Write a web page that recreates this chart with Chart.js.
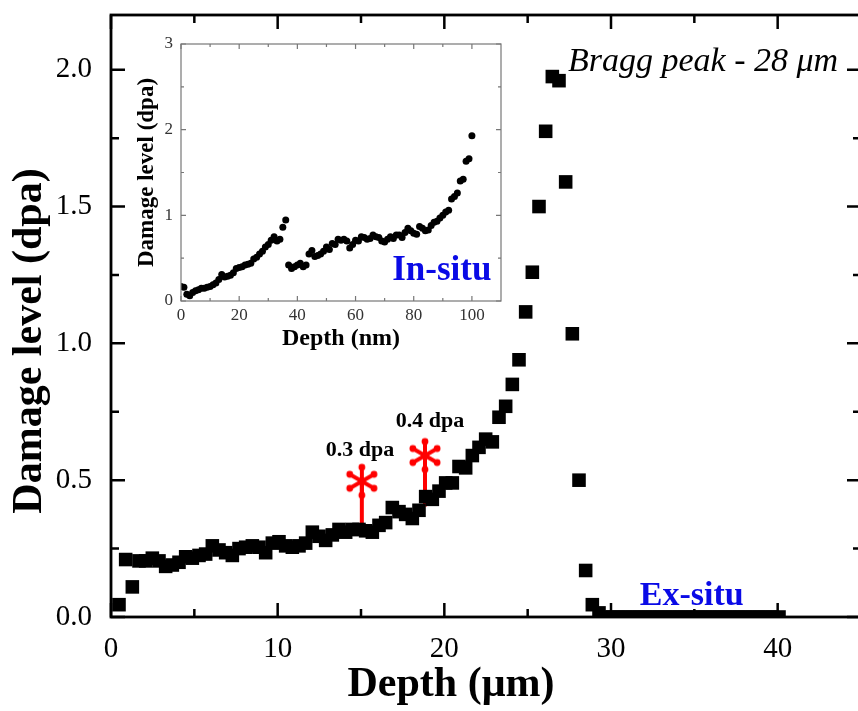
<!DOCTYPE html>
<html>
<head>
<meta charset="utf-8">
<script src="https://cdn.jsdelivr.net/npm/chart.js@4.4.0/dist/chart.umd.min.js"></script>
<style>
  html, body { margin: 0; padding: 0; background: #fff; overflow: hidden; }
  #wrap { position: relative; width: 864px; height: 711px; }
  #inset { position: absolute; left: 130px; top: 30px; }
</style>
</head>
<body>
<div id="wrap">
  <canvas id="mainChart" width="864" height="711"></canvas>
  <canvas id="inset" width="390" height="330"></canvas>
</div>
<script>
// ex-situ profile (depth in µm, damage in dpa)
const depthUm = [
  0.48, 0.88, 1.28, 1.68, 2.08, 2.48, 2.88, 3.28, 3.68, 4.08,
  4.48, 4.88, 5.28, 5.68, 6.08, 6.48, 6.88, 7.28, 7.68, 8.08,
  8.48, 8.88, 9.28, 9.68, 10.08, 10.48, 10.88, 11.28, 11.68, 12.08,
  12.48, 12.88, 13.28, 13.68, 14.08, 14.48, 14.88, 15.28, 15.68, 16.08,
  16.48, 16.88, 17.28, 17.68, 18.08, 18.48, 18.88, 19.28, 19.68, 20.08,
  20.48, 20.88, 21.28, 21.68, 22.08, 22.48, 22.88, 23.28, 23.68, 24.08,
  24.48, 24.88, 25.28, 25.68, 26.08, 26.48, 26.88, 27.28, 27.68, 28.08,
  28.48, 28.88, 29.28, 29.68, 30.08, 30.48, 30.88, 31.28, 31.68, 32.08,
  32.48, 32.88, 33.28, 33.68, 34.08, 34.48, 34.88, 35.28, 35.68, 36.08,
  36.48, 36.88, 37.28, 37.68, 38.08, 38.48, 38.88, 39.28, 39.68, 40.08
];
const damageExSitu = [
  0.045, 0.21, 0.11, 0.205, 0.205, 0.215, 0.205, 0.185, 0.19, 0.20,
  0.22, 0.215, 0.225, 0.23, 0.26, 0.245, 0.235, 0.225, 0.25, 0.255,
  0.26, 0.255, 0.235, 0.27, 0.275, 0.26, 0.255, 0.26, 0.27, 0.31,
  0.295, 0.28, 0.30, 0.32, 0.31, 0.32, 0.32, 0.315, 0.31, 0.335,
  0.345, 0.40, 0.385, 0.375, 0.36, 0.39, 0.44, 0.43, 0.46, 0.49,
  0.49, 0.55, 0.545, 0.59, 0.62, 0.65, 0.64, 0.73, 0.77, 0.85,
  0.94, 1.115, 1.26, 1.50, 1.775, 1.975, 1.96, 1.59, 1.035, 0.50,
  0.17, 0.045, 0.015, 0, 0, 0, 0, 0, 0, 0,
  0, 0, 0, 0, 0, 0, 0, 0, 0, 0,
  0, 0, 0, 0, 0, 0, 0, 0, 0, 0
];

// red markers (0.3 dpa and 0.4 dpa positions)
const markerDepth = [15.05, 18.84];
const markerBase = [0.315, 0.404];
const markerTop = [0.496, 0.59];
const markerLabels = ['0.3 dpa', '0.4 dpa'];

// in-situ profile (inset, depth in nm)
const depthNm = [
  0, 1, 2, 3, 4, 5, 6, 7, 8, 9, 10, 11, 12, 13, 14, 15, 16, 17, 18, 19,
  20, 21, 22, 23, 24, 25, 26, 27, 28, 29, 30, 31, 32, 33, 34, 35, 36, 37, 38, 39,
  40, 41, 42, 43, 44, 45, 46, 47, 48, 49, 50, 51, 52, 53, 54, 55, 56, 57, 58, 59,
  60, 61, 62, 63, 64, 65, 66, 67, 68, 69, 70, 71, 72, 73, 74, 75, 76, 77, 78, 79,
  80, 81, 82, 83, 84, 85, 86, 87, 88, 89, 90, 91, 92, 93, 94, 95, 96, 97, 98, 99, 100
];
const damageInSitu = [
  0.17, 0.16, 0.08, 0.06, 0.10, 0.12, 0.13, 0.15, 0.15, 0.16,
  0.17, 0.19, 0.21, 0.25, 0.31, 0.28, 0.29, 0.30, 0.33, 0.38,
  0.39, 0.40, 0.42, 0.43, 0.44, 0.49, 0.51, 0.55, 0.58, 0.63,
  0.66, 0.71, 0.75, 0.70, 0.72, 0.86, 0.945, 0.42, 0.38, 0.40,
  0.42, 0.44, 0.40, 0.42, 0.55, 0.59, 0.52, 0.53, 0.55, 0.58,
  0.63, 0.60, 0.67, 0.66, 0.72, 0.71, 0.72, 0.70, 0.62, 0.66,
  0.71, 0.70, 0.75, 0.74, 0.72, 0.73, 0.77, 0.75, 0.74, 0.70,
  0.69, 0.72, 0.75, 0.73, 0.77, 0.77, 0.74, 0.80, 0.85, 0.82,
  0.79, 0.78, 0.87, 0.85, 0.82, 0.83, 0.88, 0.92, 0.93, 0.97,
  1.00, 1.04, 1.06, 1.19, 1.22, 1.26, 1.40, 1.42, 1.63, 1.66, 1.93
];

// ticks
const xMajor = [0, 10, 20, 30, 40];
const xMinor = [5, 15, 25, 35];
const yMajor = [0, 0.5, 1.0, 1.5, 2.0];
const yMinor = [0.25, 0.75, 1.25, 1.75];
const insetXMajor = [0, 20, 40, 60, 80, 100];
const insetXMinor = [10, 30, 50, 70, 90];
const insetYMajor = [0, 1, 2, 3];
const insetYMinor = [0.5, 1.5, 2.5];

const SERIF = '"Liberation Serif", "Times New Roman", serif';

// asterisk used as point style for the red markers
function makeAsterisk() {
  const c = document.createElement('canvas');
  c.width = 40; c.height = 40;
  const g = c.getContext('2d');
  g.strokeStyle = '#ff0000';
  g.fillStyle = '#ff0000';
  g.lineWidth = 4;
  g.lineCap = 'round';
  for (let k = 0; k < 6; k++) {
    const a = -Math.PI / 2 + k * Math.PI / 3;
    const ex = 20 + Math.cos(a) * 14, ey = 20 + Math.sin(a) * 14;
    g.beginPath(); g.moveTo(20, 20); g.lineTo(ex, ey); g.stroke();
    g.beginPath(); g.arc(ex, ey, 3.4, 0, Math.PI * 2); g.fill();
  }
  return c;
}

// frame + inward ticks on all four sides
function frameTicks(o) {
  return {
    id: 'frameTicks',
    afterDatasetsDraw(chart) {
      const {ctx, chartArea: a, scales: {x, y}} = chart;
      ctx.save();
      ctx.strokeStyle = o.color;
      ctx.lineWidth = o.width;
      ctx.beginPath();
      const tx = (v, len) => {
        const p = x.getPixelForValue(v);
        ctx.moveTo(p, a.bottom); ctx.lineTo(p, a.bottom - len);
        ctx.moveTo(p, a.top); ctx.lineTo(p, a.top + len);
      };
      const ty = (v, len) => {
        const p = y.getPixelForValue(v);
        ctx.moveTo(a.left, p); ctx.lineTo(a.left + len, p);
        ctx.moveTo(a.right, p); ctx.lineTo(a.right - len, p);
      };
      o.xMajor.forEach(v => tx(v, o.major));
      o.xMinor.forEach(v => tx(v, o.minor));
      o.yMajor.forEach(v => ty(v, o.major));
      o.yMinor.forEach(v => ty(v, o.minor));
      ctx.stroke();
      ctx.lineWidth = o.frameWidth;
      ctx.strokeRect(a.left, a.top, a.right - a.left, a.bottom - a.top);
      ctx.restore();
    }
  };
}

// fixed axis sizes, no extra label overhang padding
function fitX(h) {
  return s => { s.height = h; s.paddingLeft = 0; s.paddingRight = 0; };
}
function fitY(w) {
  return s => { s.width = w; s.paddingTop = 0; s.paddingBottom = 0; };
}

const mainText = {
  id: 'mainText',
  afterDraw(chart) {
    const {ctx, scales: {x, y}} = chart;
    ctx.save();
    ctx.fillStyle = '#000';
    ctx.textBaseline = 'middle';
    ctx.textAlign = 'center';
    ctx.font = 'bold 42px ' + SERIF;
    ctx.fillText('Depth (\u03bcm)', 451, 685);
    ctx.save();
    ctx.translate(30, 341);
    ctx.rotate(-Math.PI / 2);
    ctx.fillText('Damage level (dpa)', 0, 0);
    ctx.restore();

    ctx.textBaseline = 'alphabetic';
    ctx.textAlign = 'left';
    ctx.font = 'italic 34px ' + SERIF;
    ctx.fillText('Bragg peak - 28 \u03bcm', x.getPixelForValue(27.42), y.getPixelForValue(1.996));

    ctx.textAlign = 'center';
    ctx.font = 'bold 22px ' + SERIF;
    ctx.fillText(markerLabels[0], x.getPixelForValue(14.94), y.getPixelForValue(0.59));
    ctx.fillText(markerLabels[1], x.getPixelForValue(19.14), y.getPixelForValue(0.696));

    ctx.textAlign = 'left';
    ctx.fillStyle = '#0a0ae6';
    ctx.font = 'bold 34px ' + SERIF;
    ctx.fillText('Ex-situ', x.getPixelForValue(31.73), y.getPixelForValue(0.044));
    ctx.restore();
  }
};

const asterisk = makeAsterisk();

new Chart(document.getElementById('mainChart'), {
  type: 'scatter',
  data: {
    datasets: [
      {
        data: depthUm.map((d, i) => ({x: d, y: damageExSitu[i]})),
        pointStyle: 'rect',
        pointRadius: 9.6,
        backgroundColor: '#000',
        borderWidth: 0,
        clip: 0
      },
      {
        type: 'line',
        data: [{x: markerDepth[0], y: markerBase[0]}, {x: markerDepth[0], y: markerTop[0]}],
        borderColor: '#ff0000',
        borderWidth: 4,
        pointRadius: 0
      },
      {
        type: 'line',
        data: [{x: markerDepth[1], y: markerBase[1]}, {x: markerDepth[1], y: markerTop[1]}],
        borderColor: '#ff0000',
        borderWidth: 4,
        pointRadius: 0
      },
      {
        data: markerDepth.map((d, i) => ({x: d, y: markerTop[i]})),
        pointStyle: asterisk,
        pointRadius: 16
      }
    ]
  },
  options: {
    responsive: false,
    devicePixelRatio: 1,
    animation: false,
    layout: { autoPadding: false, padding: { top: 15, right: 3, left: 0, bottom: 0 } },
    plugins: { legend: { display: false }, tooltip: { enabled: false } },
    scales: {
      x: {
        type: 'linear', min: 0, max: 45,
        grid: { display: false, drawTicks: false },
        border: { display: false },
        afterBuildTicks: s => { s.ticks = xMajor.map(v => ({value: v})); },
        afterFit: fitX(94),
        ticks: { color: '#000', padding: 15, font: { family: SERIF, size: 29 } }
      },
      y: {
        type: 'linear', min: 0, max: 2.2,
        grid: { display: false, drawTicks: false },
        border: { display: false },
        afterBuildTicks: s => { s.ticks = yMajor.map(v => ({value: v})); },
        afterFit: fitY(111),
        ticks: { color: '#000', padding: 19, font: { family: SERIF, size: 29 },
                 callback: v => Number(v).toFixed(1) }
      }
    }
  },
  plugins: [frameTicks({ color: '#000', width: 2.5, frameWidth: 2.8, major: 14, minor: 8,
                         xMajor, xMinor, yMajor, yMinor }), mainText]
});

const insetText = {
  id: 'insetText',
  afterDraw(chart) {
    const {ctx, scales: {x, y}} = chart;
    ctx.save();
    ctx.fillStyle = '#0a0ae6';
    ctx.font = 'bold 35px ' + SERIF;
    ctx.textAlign = 'left';
    ctx.textBaseline = 'alphabetic';
    ctx.fillText('In-situ', x.getPixelForValue(72.6), y.getPixelForValue(0.245));
    ctx.restore();
  }
};

new Chart(document.getElementById('inset'), {
  type: 'scatter',
  data: {
    datasets: [{
      data: depthNm.map((d, i) => ({x: d, y: damageInSitu[i]})),
      pointStyle: 'circle',
      pointRadius: 3.5,
      backgroundColor: '#000',
      borderWidth: 0
    }]
  },
  options: {
    responsive: false,
    devicePixelRatio: 1,
    animation: false,
    layout: { autoPadding: false, padding: { top: 14, right: 19, left: 0, bottom: 0 } },
    plugins: { legend: { display: false }, tooltip: { enabled: false } },
    scales: {
      x: {
        type: 'linear', min: 0, max: 110,
        grid: { display: false, drawTicks: false },
        border: { display: false },
        afterBuildTicks: s => { s.ticks = insetXMajor.map(v => ({value: v})); },
        afterFit: fitX(59),
        ticks: { color: '#333', padding: 4, font: { family: SERIF, size: 17 } },
        title: { display: true, text: 'Depth (nm)', color: '#000',
                 font: { family: SERIF, size: 24, weight: 'bold' }, padding: { top: 0, bottom: 7 } }
      },
      y: {
        type: 'linear', min: 0, max: 3,
        grid: { display: false, drawTicks: false },
        border: { display: false },
        afterBuildTicks: s => { s.ticks = insetYMajor.map(v => ({value: v})); },
        afterFit: fitY(51),
        ticks: { color: '#333', padding: 8, font: { family: SERIF, size: 17 } },
        title: { display: true, text: 'Damage level (dpa)', color: '#000',
                 font: { family: SERIF, size: 23, weight: 'bold' }, padding: { top: 3, bottom: 0 } }
      }
    }
  },
  plugins: [frameTicks({ color: '#777', width: 1.2, frameWidth: 1.2, major: 5, minor: 3,
                         xMajor: insetXMajor, xMinor: insetXMinor,
                         yMajor: insetYMajor, yMinor: insetYMinor }), insetText]
});
</script>
</body>
</html>
